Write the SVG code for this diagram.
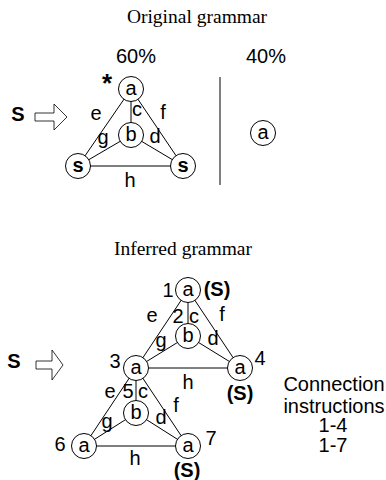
<svg xmlns="http://www.w3.org/2000/svg" width="386" height="480" viewBox="0 0 386 480">
<style>
.t{font-family:"Liberation Serif","Times New Roman",serif;font-size:19.5px;fill:#000;text-anchor:middle}
.l{font-family:"Liberation Sans",Arial,sans-serif;font-size:20px;fill:#000;text-anchor:middle}
.b{font-family:"Liberation Sans",Arial,sans-serif;font-size:20px;font-weight:bold;fill:#000;text-anchor:middle}
.n circle{fill:#fff;stroke:#000;stroke-width:1}
.e line{stroke:#000;stroke-width:1}
.arr{fill:#fff;stroke:#000;stroke-width:0.8}
</style>
<rect width="386" height="480" fill="#fff"/>
<text class="t" x="197" y="23">Original grammar</text>
<text class="l" x="136" y="63">60%</text>
<text class="l" x="266" y="63">40%</text>
<text class="b" x="107" y="92" style="font-size:26px">*</text>
<text class="b" x="18" y="121">S</text>
<path class="arr" d="M35,113 L54,113 L54,104 L67,117 L54,130 L54,121 L35,121 Z"/>
<line x1="220" y1="77" x2="220" y2="185" stroke="#000" stroke-width="1"/>
<g id="edges-top" class="e">
<line x1="131" y1="89" x2="78" y2="166"/>
<line x1="131" y1="89" x2="183" y2="166"/>
<line x1="131" y1="89" x2="131" y2="135"/>
<line x1="131" y1="135" x2="78" y2="166"/>
<line x1="131" y1="135" x2="183" y2="166"/>
<line x1="78" y1="166" x2="183" y2="166"/>
</g>
<g class="l">
<text x="96" y="120">e</text>
<text x="137" y="116">c</text>
<text x="163" y="119">f</text>
<text x="103" y="144">g</text>
<text x="155" y="143">d</text>
<text x="130" y="187">h</text>
</g>
<g id="t-a" class="n"><circle cx="131" cy="89" r="12.5"/><text class="l" x="131" y="95">a</text></g>
<g id="t-b" class="n"><circle cx="131" cy="135" r="12.5"/><text class="l" x="131" y="141">b</text></g>
<g id="t-s1" class="n"><circle cx="78" cy="166" r="12.5"/><text class="b" x="78" y="172">s</text></g>
<g id="t-s2" class="n"><circle cx="183" cy="166" r="12.5"/><text class="b" x="183" y="172">s</text></g>
<g id="t-a2" class="n"><circle cx="263" cy="133" r="12.5"/><text class="l" x="263" y="139">a</text></g>

<text class="t" x="183" y="255">Inferred grammar</text>
<text class="b" x="14" y="368">S</text>
<path class="arr" d="M36,361 L52,361 L52,350 L63,365 L52,380 L52,369 L36,369 Z"/>
<g id="edges-bottom" class="e">
<line x1="188" y1="290" x2="136" y2="368"/>
<line x1="188" y1="290" x2="240" y2="368"/>
<line x1="188" y1="290" x2="188" y2="336"/>
<line x1="188" y1="336" x2="136" y2="368"/>
<line x1="188" y1="336" x2="240" y2="368"/>
<line x1="136" y1="368" x2="240" y2="368"/>
<line x1="136" y1="368" x2="84" y2="446"/>
<line x1="136" y1="368" x2="188" y2="446"/>
<line x1="136" y1="368" x2="136" y2="413"/>
<line x1="136" y1="413" x2="84" y2="446"/>
<line x1="136" y1="413" x2="188" y2="446"/>
<line x1="84" y1="446" x2="188" y2="446"/>
</g>
<g class="l">
<text x="168" y="297">1</text>
<text x="152" y="322">e</text>
<text x="178" y="323">2</text>
<text x="194" y="323">c</text>
<text x="222" y="321">f</text>
<text x="161" y="347">g</text>
<text x="213" y="345">d</text>
<text x="115" y="368">3</text>
<text x="260" y="365">4</text>
<text x="188" y="389">h</text>
<text x="110" y="398">e</text>
<text x="128" y="398">5</text>
<text x="143" y="398">c</text>
<text x="176" y="412">f</text>
<text x="107" y="428">g</text>
<text x="161" y="424">d</text>
<text x="60" y="451">6</text>
<text x="211" y="445">7</text>
<text x="135" y="465">h</text>
<text x="334" y="391">Connection</text>
<text x="334" y="413">instructions</text>
<text x="333" y="432">1-4</text>
<text x="333" y="452">1-7</text>
</g>
<g class="b">
<text x="217" y="296">(S)</text>
<text x="240" y="400">(S)</text>
<text x="187" y="477">(S)</text>
</g>
<g id="n1" class="n"><circle cx="188" cy="290" r="12.5"/><text class="l" x="188" y="296">a</text></g>
<g id="n2" class="n"><circle cx="188" cy="336" r="12.5"/><text class="l" x="188" y="342">b</text></g>
<g id="n3" class="n"><circle cx="136" cy="368" r="12.5"/><text class="l" x="136" y="374">a</text></g>
<g id="n4" class="n"><circle cx="240" cy="368" r="12.5"/><text class="l" x="240" y="374">a</text></g>
<g id="n5" class="n"><circle cx="136" cy="413" r="12.5"/><text class="l" x="136" y="419">b</text></g>
<g id="n6" class="n"><circle cx="84" cy="446" r="12.5"/><text class="l" x="84" y="452">a</text></g>
<g id="n7" class="n"><circle cx="188" cy="446" r="12.5"/><text class="l" x="188" y="452">a</text></g>
</svg>
